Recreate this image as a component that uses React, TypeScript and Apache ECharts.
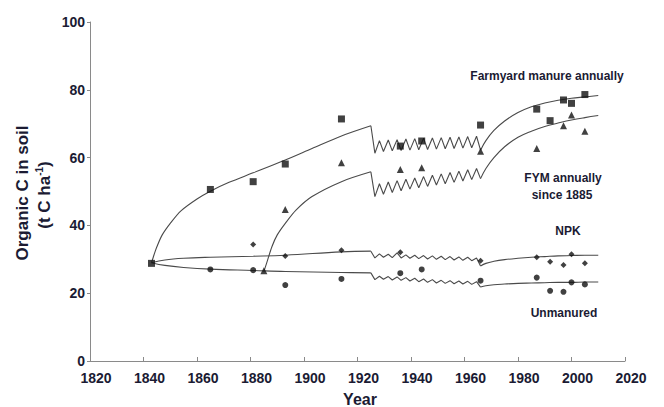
import { useEffect, useRef } from "react";
import * as echarts from "echarts";

// Observed data (year, t C/ha)
const fymObs: [number, number][] = [
  [1843, 28.8], [1865, 50.6], [1881, 52.9], [1893, 58.1], [1914, 71.4], [1936, 63.4], [1944, 64.9],
  [1966, 69.6], [1987, 74.3], [1992, 70.9], [1997, 77.0], [2000, 76.0], [2005, 78.6],
];
const fym1885Obs: [number, number][] = [
  [1885, 26.6], [1893, 44.7], [1914, 58.5], [1936, 56.5], [1944, 57.0], [1966, 61.9],
  [1987, 62.7], [1997, 69.4], [2000, 72.6], [2005, 67.8],
];
const npkObs: [number, number][] = [
  [1881, 34.4], [1893, 31.0], [1914, 32.7], [1936, 32.1], [1966, 29.6], [1987, 30.6],
  [1992, 29.3], [1997, 28.3], [2000, 31.5], [2005, 28.8],
];
const unmanuredObs: [number, number][] = [
  [1865, 27.0], [1881, 26.8], [1893, 22.4], [1914, 24.2], [1936, 25.9], [1944, 27.0], [1966, 23.7],
  [1987, 24.6], [1992, 20.7], [1997, 20.4], [2000, 23.2], [2005, 22.6],
];

// Modelled curves: early period
const fymEarlyYears = [1843, 1844, 1845, 1847, 1850, 1854, 1860, 1865, 1872, 1881, 1893, 1903, 1914, 1925];
const fymEarly = [29.0, 31.5, 33.7, 37.2, 40.6, 44.3, 47.8, 50.1, 52.7, 55.5, 59.3, 62.7, 66.4, 69.4];
const fym1885EarlyYears = [1885, 1886, 1888, 1890, 1893, 1897, 1903, 1914, 1925];
const fym1885Early = [26.4, 28.8, 33.7, 37.2, 40.6, 44.5, 48.5, 52.9, 55.8];
const npkEarlyYears = [1843, 1848, 1855, 1865, 1881, 1893, 1914, 1925];
const npkEarly = [29.0, 29.8, 30.3, 30.6, 30.9, 31.2, 32.2, 32.4];
const unmEarlyYears = [1843, 1848, 1855, 1865, 1881, 1893, 1914, 1925];
const unmEarly = [29.0, 28.2, 27.6, 27.1, 26.7, 26.4, 26.1, 26.0];

// Modelled curves: fallow (sawtooth) period
const sawYears = [
  1925, 1926.5, 1928.2, 1929.7, 1931.5, 1933, 1934.8, 1936.3, 1938.1, 1939.6, 1941.4, 1942.9, 1944.7,
  1946.2, 1948, 1949.5, 1951.3, 1952.8, 1954.6, 1956.1, 1957.9, 1959.4, 1961.2, 1962.7, 1964.5, 1966,
];
const fymSaw = [
  69.4, 61.3, 65.0, 61.8, 65.2, 62.0, 65.3, 62.1, 65.5, 62.2, 65.6, 62.3, 65.7,
  62.4, 65.8, 62.5, 65.9, 62.6, 66.0, 62.7, 66.1, 62.8, 66.2, 62.9, 66.3, 62.2,
];
const fym1885Saw = [
  55.8, 48.5, 52.3, 49.2, 52.8, 49.7, 53.2, 50.2, 53.6, 50.7, 54.0, 51.1, 54.4,
  51.5, 54.8, 51.9, 55.2, 52.3, 55.6, 52.7, 56.0, 53.1, 56.4, 53.5, 56.8, 53.8,
];
const npkSaw = [
  32.4, 30.4, 31.6, 30.6, 31.5, 30.5, 31.9, 30.4, 31.3, 30.3, 31.2, 30.2, 31.1,
  30.1, 31.0, 30.0, 30.9, 29.9, 30.8, 29.8, 30.7, 29.7, 30.6, 29.6, 30.4, 28.0,
];
const unmSaw = [
  26.0, 24.0, 25.0, 24.1, 24.9, 23.9, 24.8, 23.8, 24.6, 23.6, 24.4, 23.4, 24.2,
  23.2, 24.0, 23.0, 23.8, 22.9, 23.7, 22.8, 23.6, 22.7, 23.5, 22.6, 23.4, 21.8,
];

// Modelled curves: late period
const lateYears = [1966, 1968, 1971, 1975, 1980, 1985, 1990, 1995, 2000, 2005, 2010];
const fymLate = [62.2, 65.0, 68.0, 70.8, 73.3, 75.0, 76.1, 76.9, 77.5, 77.9, 78.3];
const fym1885Late = [53.8, 56.8, 60.0, 63.2, 66.0, 67.8, 69.2, 70.2, 71.1, 71.8, 72.4];
const npkLate = [28.0, 28.8, 29.4, 29.9, 30.3, 30.6, 30.8, 31.0, 31.1, 31.2, 31.2];
const unmLate = [21.8, 22.2, 22.5, 22.7, 22.9, 23.0, 23.1, 23.2, 23.2, 23.3, 23.3];

const FONT = "'Liberation Sans', Arial, sans-serif";
const TEXT = "#1b1b33";
const LINE = "#4a4a4a";
const AXIS = "#8a8a8a";

const zip = (xs: number[], ys: number[]) => xs.map((x, i) => [x, ys[i]]);

export default function App() {
  const ref = useRef<HTMLDivElement>(null);
  useEffect(() => {
    const chart = echarts.init(ref.current!, null, { renderer: "svg" });
    const lineSeries = (data: number[][], smooth: boolean | number) => ({
      type: "line",
      data,
      smooth,
      symbol: "none",
      lineStyle: { color: LINE, width: 1.1 },
      z: 2,
    });
    const scatter = (data: number[][], symbol: string, size: number) => ({
      type: "scatter",
      data,
      symbol,
      symbolSize: size,
      itemStyle: { color: "#111" },
      z: 3,
    });
    const annot = (text: string, x: number, y: number, size = 12) => ({
      type: "text",
      x,
      y,
      style: {
        text,
        fill: TEXT,
        font: `bold ${size}px ${FONT}`,
        textAlign: "center",
        textVerticalAlign: "middle",
      },
    });
    const labelStyle = {
      color: TEXT,
      fontSize: 14,
      fontWeight: "bold",
      fontFamily: FONT,
      lineHeight: 14,
    };
    const option = {
      animation: false,
      backgroundColor: "#fff",
      grid: [
        { left: 90, right: 39, top: 22, bottom: 46, containLabel: false, outerBoundsMode: "none" },
        { left: 96, right: 33, top: 22, bottom: 46, containLabel: false, outerBoundsMode: "none" },
      ],
      xAxis: [
        {
          type: "value",
          gridIndex: 0,
          min: 1820,
          max: 2020,
          interval: 20,
          splitLine: { show: false },
          axisLine: { lineStyle: { color: AXIS, width: 1 } },
          axisTick: { show: true, inside: true, length: 4, lineStyle: { color: AXIS } },
          axisLabel: { show: false },
        },
        {
          type: "value",
          gridIndex: 1,
          min: 1820,
          max: 2020,
          interval: 20,
          splitLine: { show: false },
          axisLine: { show: false },
          axisTick: { show: false },
          axisLabel: {
            ...labelStyle,
            margin: 10,
            showMinLabel: true,
            showMaxLabel: true,
            formatter: (v: number) => String(v),
          },
        },
      ],
      yAxis: [
        {
          type: "value",
          gridIndex: 0,
          min: 0,
          max: 100,
          interval: 20,
          splitLine: { show: false },
          axisLine: { show: true, lineStyle: { color: AXIS, width: 1 } },
          axisTick: { show: true, inside: false, length: 3, lineStyle: { color: AXIS } },
          axisLabel: { ...labelStyle, margin: 5 },
        },
        {
          type: "value",
          gridIndex: 1,
          min: 0,
          max: 100,
          show: false,
        },
      ],
      graphic: [
        annot("Year", 360, 399, 16),
        {
          type: "text",
          x: 22,
          y: 193,
          rotation: Math.PI / 2,
          style: {
            text: "Organic C in soil",
            fill: TEXT,
            font: `bold 17px ${FONT}`,
            textAlign: "center",
            textVerticalAlign: "middle",
          },
        },
        {
          type: "text",
          x: 44,
          y: 195,
          rotation: Math.PI / 2,
          style: {
            text: "{a|(t C ha}{s|-1}{a|)}",
            fill: TEXT,
            textAlign: "center",
            textVerticalAlign: "middle",
            rich: {
              a: { fontSize: 17, fontWeight: "bold", fontFamily: FONT, fill: TEXT },
              s: { fontSize: 10, fontWeight: "bold", fontFamily: FONT, fill: TEXT, padding: [0, 0, 9, 0] },
            },
          },
        },
        annot("Farmyard manure annually", 547, 76),
        annot("FYM annually", 563, 178),
        annot("since 1885", 562, 195),
        annot("NPK", 568, 231),
        annot("Unmanured", 564, 313),
      ],
      series: [
        lineSeries(zip(fymEarlyYears, fymEarly), 0.3),
        lineSeries(zip(sawYears, fymSaw), false),
        lineSeries(zip(lateYears, fymLate), 0.4),
        lineSeries(zip(fym1885EarlyYears, fym1885Early), 0.3),
        lineSeries(zip(sawYears, fym1885Saw), false),
        lineSeries(zip(lateYears, fym1885Late), 0.4),
        lineSeries(zip(npkEarlyYears, npkEarly), 0.4),
        lineSeries(zip(sawYears, npkSaw), false),
        lineSeries(zip(lateYears, npkLate), 0.4),
        lineSeries(zip(unmEarlyYears, unmEarly), 0.4),
        lineSeries(zip(sawYears, unmSaw), false),
        lineSeries(zip(lateYears, unmLate), 0.4),
        scatter(fymObs, "rect", 7),
        scatter(fym1885Obs, "triangle", 7),
        scatter(npkObs, "diamond", 6),
        scatter(unmanuredObs, "circle", 6),
      ],
    };
    chart.setOption(option as any);
    return () => chart.dispose();
  }, []);
  return (
    <div
      ref={ref}
      style={{ position: "fixed", left: 0, top: 0, width: 664, height: 407, background: "#fff" }}
    />
  );
}
